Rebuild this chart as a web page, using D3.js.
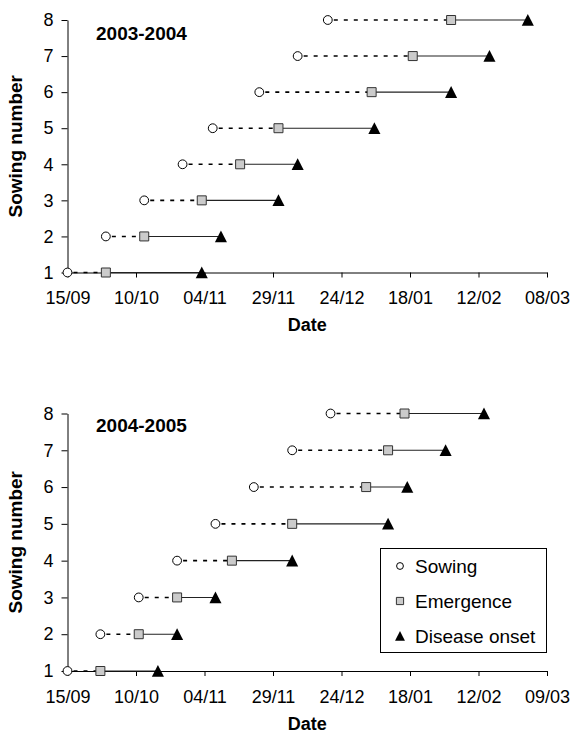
<!DOCTYPE html>
<html>
<head>
<meta charset="utf-8">
<script src="https://cdn.jsdelivr.net/npm/d3@7"></script>
<style>
  html, body { margin: 0; padding: 0; background: #fff; }
  svg { display: block; }
  text { font-family: "Liberation Sans", Arial, Helvetica, sans-serif; fill: #000; }
</style>
</head>
<body>
<svg id="chart" width="573" height="736"></svg>
<script>
// ---------------- data ----------------
const sowingNumbers = [1, 2, 3, 4, 5, 6, 7, 8];

const sowing0304    = ["2003-09-15","2003-09-29","2003-10-13","2003-10-27","2003-11-07","2003-11-24","2003-12-08","2003-12-19"];
const emergence0304 = ["2003-09-29","2003-10-13","2003-11-03","2003-11-17","2003-12-01","2004-01-04","2004-01-19","2004-02-02"];
const onset0304     = ["2003-11-03","2003-11-10","2003-12-01","2003-12-08","2004-01-05","2004-02-02","2004-02-16","2004-03-01"];

const sowing0405    = ["2004-09-15","2004-09-27","2004-10-11","2004-10-25","2004-11-08","2004-11-22","2004-12-06","2004-12-20"];
const emergence0405 = ["2004-09-27","2004-10-11","2004-10-25","2004-11-14","2004-12-06","2005-01-02","2005-01-10","2005-01-16"];
const onset0405     = ["2004-10-18","2004-10-25","2004-11-08","2004-12-06","2005-01-10","2005-01-17","2005-01-31","2005-02-14"];

const xTickLabels0304 = ["15/09","10/10","04/11","29/11","24/12","18/01","12/02","08/03"];
const xTickLabels0405 = ["15/09","10/10","04/11","29/11","24/12","18/01","12/02","09/03"];
const yTickValues = [1, 2, 3, 4, 5, 6, 7, 8];

const legendLabels = ["Sowing", "Emergence", "Disease onset"];

// ---------------- helpers ----------------
const parse = d3.utcParse("%Y-%m-%d");
const FONT = '"Liberation Sans", Arial, Helvetica, sans-serif';

function tickDates(labels, startYear) {
  return labels.map(l => {
    const [dd, mm] = l.split("/").map(Number);
    const yr = mm >= 7 ? startYear : startYear + 1;
    return new Date(Date.UTC(yr, mm - 1, dd));
  });
}

const triangleSymbol = {
  draw(ctx, size) {
    const w = Math.sqrt(size) * 0.78;
    ctx.moveTo(0, -w);
    ctx.lineTo(w, w * 0.95);
    ctx.lineTo(-w, w * 0.95);
    ctx.closePath();
  }
};

const svg = d3.select("#chart");

function drawPanel(cfg) {
  const { sowing, emergence, onset, tickLabels, startYear, title,
          left, right, top, bottom, titleY, dateY } = cfg;
  const ticks = tickDates(tickLabels, startYear);
  const x = d3.scaleUtc().domain([ticks[0], ticks[ticks.length - 1]]).range([left, right]);
  const y = d3.scaleLinear().domain([1, 8]).range([bottom, top]);

  const g = svg.append("g");

  // axes
  const xAxis = d3.axisBottom(x).tickValues(ticks)
    .tickFormat((d, i) => tickLabels[i]).tickSize(5).tickSizeOuter(0).tickPadding(14);
  const gx = g.append("g").attr("transform", `translate(0,${bottom})`).call(xAxis);
  gx.selectAll("text").style("font-size", "18px").style("font-family", FONT).attr("fill", "#000");
  gx.selectAll("line, path").attr("stroke", "#000");

  const yAxis = d3.axisLeft(y).tickValues(yTickValues).tickFormat(d3.format("d"))
    .tickSize(6).tickSizeOuter(0).tickPadding(8);
  const gy = g.append("g").attr("transform", `translate(${left},0)`).call(yAxis);
  gy.selectAll("text").style("font-size", "18px").style("font-family", FONT).attr("fill", "#000");
  gy.selectAll("line, path").attr("stroke", "#000");

  // axis titles
  g.append("text").attr("x", (left + right) / 2).attr("y", dateY)
    .attr("text-anchor", "middle").style("font-size", "18px").style("font-weight", "bold")
    .text("Date");
  g.append("text")
    .attr("transform", `translate(22,${(top + bottom) / 2}) rotate(-90)`)
    .attr("text-anchor", "middle").style("font-size", "19px").style("font-weight", "bold")
    .text("Sowing number");

  // panel title
  g.append("text").attr("x", 96).attr("y", titleY)
    .style("font-size", "19px").style("font-weight", "bold").text(title);

  const rows = sowingNumbers.map((n, i) => ({
    n, s: parse(sowing[i]), e: parse(emergence[i]), o: parse(onset[i])
  }));

  // dotted segments sowing -> emergence
  g.selectAll(".dot-seg").data(rows).join("line")
    .attr("x1", d => x(d.s) + 6).attr("x2", d => x(d.e))
    .attr("y1", d => y(d.n)).attr("y2", d => y(d.n))
    .attr("stroke", "#000").attr("stroke-width", 1.6).attr("stroke-dasharray", "4,6");
  // solid segments emergence -> onset
  g.selectAll(".sol-seg").data(rows).join("line")
    .attr("x1", d => x(d.e)).attr("x2", d => x(d.o))
    .attr("y1", d => y(d.n)).attr("y2", d => y(d.n))
    .attr("stroke", "#222").attr("stroke-width", 1.1);

  // markers
  g.selectAll(".sow").data(rows).join("circle")
    .attr("cx", d => x(d.s)).attr("cy", d => y(d.n)).attr("r", 4.4)
    .attr("fill", "#fff").attr("stroke", "#000").attr("stroke-width", 1);
  g.selectAll(".emg").data(rows).join("path")
    .attr("transform", d => `translate(${x(d.e)},${y(d.n)})`)
    .attr("d", d3.symbol(d3.symbolSquare, 81))
    .attr("fill", "#cbcbcb").attr("stroke", "#333").attr("stroke-width", 1);
  g.selectAll(".ons").data(rows).join("path")
    .attr("transform", d => `translate(${x(d.o)},${y(d.n)})`)
    .attr("d", d3.symbol(triangleSymbol, 60))
    .attr("fill", "#000");
}

drawPanel({
  sowing: sowing0304, emergence: emergence0304, onset: onset0304,
  tickLabels: xTickLabels0304, startYear: 2003, title: "2003-2004",
  left: 67.5, right: 547, top: 20, bottom: 272.5, titleY: 40, dateY: 331
});
drawPanel({
  sowing: sowing0405, emergence: emergence0405, onset: onset0405,
  tickLabels: xTickLabels0405, startYear: 2004, title: "2004-2005",
  left: 67.5, right: 547, top: 413.5, bottom: 671, titleY: 432, dateY: 730
});

// legend
const lg = svg.append("g").attr("transform", "translate(380,548)");
lg.append("rect").attr("x", 0.5).attr("y", 0.5).attr("width", 166).attr("height", 104)
  .attr("fill", "#fff").attr("stroke", "#000").attr("stroke-width", 1);
const legendRows = lg.selectAll(".lr").data(legendLabels).join("g")
  .attr("transform", (d, i) => `translate(20,${18 + i * 35})`);
legendRows.filter((d, i) => i === 0).append("circle").attr("r", 3.4)
  .attr("fill", "#fff").attr("stroke", "#000");
legendRows.filter((d, i) => i === 1).append("path")
  .attr("d", d3.symbol(d3.symbolSquare, 52)).attr("fill", "#cbcbcb").attr("stroke", "#333");
legendRows.filter((d, i) => i === 2).append("path")
  .attr("d", d3.symbol(triangleSymbol, 40)).attr("fill", "#000");
legendRows.append("text").attr("x", 15).attr("dy", "0.36em")
  .style("font-size", "19px").text(d => d);
</script>
</body>
</html>
